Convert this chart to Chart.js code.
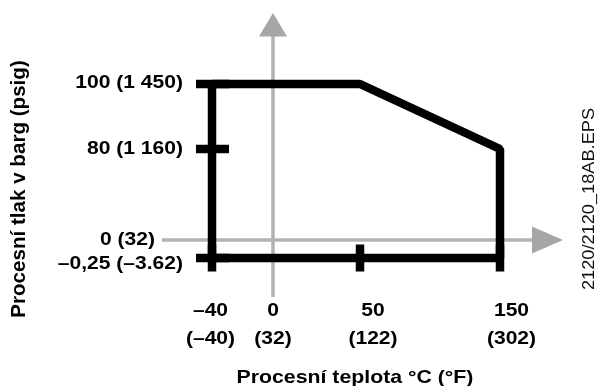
<!DOCTYPE html>
<html>
<head>
<meta charset="utf-8">
<script src="https://cdn.jsdelivr.net/npm/chart.js@4/dist/chart.umd.min.js"></script>
<style>
  html, body { margin: 0; padding: 0; background: #ffffff; }
  #wrap { width: 600px; height: 386px; }
</style>
</head>
<body>
<div id="wrap"><canvas id="c" width="600" height="386"></canvas></div>
<script>
// ---- Data ----
const tempTicks = [-40, 0, 50, 150];                       // °C
const tempLabelsC = ['–40', '0', '50', '150'];
const tempLabelsF = ['(–40)', '(32)', '(122)', '(302)'];
const pressureTicks = [100, 80, 0, -0.25];                 // barg
const pressureLabels = ['100 (1 450)', '80 (1 160)', '0 (32)', '–0,25 (–3.62)'];
const envelopeTemp = [-40, -40, 50, 150, 150, -40];
const envelopePressure = [-0.25, 100, 100, 80, -0.25, -0.25];
const tempTickMarks = [-40, 50, 150];
const pressureTickMarks = [100, 80, -0.25];
const xTitle = 'Procesní teplota °C (°F)';
const yTitle = 'Procesní tlak v barg (psig)';
const sideNote = '2120/2120_18AB.EPS';

// ---- Schematic (piecewise-linear) axis layout, as fractions of the axis length ----
const axisKnots = {
  x: { values: [-40, 0, 50, 150], fractions: [0.1247, 0.2768, 0.4938, 0.8429] },
  y: { values: [-0.25, 0, 80, 100], fractions: [0.1373, 0.2007, 0.5211, 0.75] }
};

class PiecewiseScale extends Chart.LinearScale {
  _toDecimal(v) {
    const k = axisKnots[this.id];
    const vals = k.values, fr = k.fractions;
    let i = 0;
    while (i < vals.length - 2 && v > vals[i + 1]) i++;
    const t = (v - vals[i]) / (vals[i + 1] - vals[i]);
    return fr[i] + t * (fr[i + 1] - fr[i]);
  }
  _fromDecimal(d) {
    const k = axisKnots[this.id];
    const vals = k.values, fr = k.fractions;
    let i = 0;
    while (i < fr.length - 2 && d > fr[i + 1]) i++;
    const t = (d - fr[i]) / (fr[i + 1] - fr[i]);
    return vals[i] + t * (vals[i + 1] - vals[i]);
  }
  getPixelForValue(value) {
    return this.getPixelForDecimal(this._toDecimal(value));
  }
  getValueForPixel(pixel) {
    return this._fromDecimal(this.getDecimalForPixel(pixel));
  }
}
PiecewiseScale.id = 'piecewise';
PiecewiseScale.defaults = {};
Chart.register(PiecewiseScale);

// ---- Styles ----
const BLACK = '#000000';
const LINE_W = 8.5;
const AXIS_GRAY = '#b2b2b2';
const ARROW_GRAY = '#a6a6a6';
const LABEL_FONT = 'bold 18px "Liberation Sans", Arial, sans-serif';
const LABEL_SX = 1.17;
const yLabelDx = [-29, -29, -57, -29];   // relative to frame line
const yLabelDy = [-1, 0, 0, 6];
const xLabelDx = [-1.5, 0, 13, 11.5];

function drawText(ctx, str, x, y, font, align, sx, rot, color) {
  ctx.save();
  ctx.translate(x, y);
  if (rot) ctx.rotate(rot);
  ctx.scale(sx, 1);
  ctx.font = font;
  ctx.fillStyle = color || BLACK;
  ctx.textAlign = align;
  ctx.textBaseline = 'middle';
  ctx.fillText(str, 0, 0);
  ctx.restore();
}

const decorPlugin = {
  id: 'decor',
  beforeDatasetsDraw(chart) {
    const { ctx, chartArea: a, scales: { x, y } } = chart;
    const y0 = y.getPixelForValue(0);
    const x0 = x.getPixelForValue(0);
    ctx.save();
    ctx.strokeStyle = AXIS_GRAY;
    ctx.lineWidth = 3.5;
    ctx.lineCap = 'butt';
    ctx.beginPath();
    ctx.moveTo(a.left, y0); ctx.lineTo(a.right - 20, y0);
    ctx.moveTo(x0, a.bottom); ctx.lineTo(x0, a.top + 16);
    ctx.stroke();
    ctx.fillStyle = ARROW_GRAY;
    ctx.beginPath();
    ctx.moveTo(a.right, y0);
    ctx.lineTo(a.right - 31, y0 - 13.5);
    ctx.lineTo(a.right - 31, y0 + 13.5);
    ctx.closePath();
    ctx.fill();
    ctx.beginPath();
    ctx.moveTo(x0, a.top);
    ctx.lineTo(x0 - 14, a.top + 23.5);
    ctx.lineTo(x0 + 14, a.top + 23.5);
    ctx.closePath();
    ctx.fill();
    ctx.restore();
  },
  afterDatasetsDraw(chart) {
    const { ctx, scales: { x, y } } = chart;
    const frameX = x.getPixelForValue(Math.min(...envelopeTemp));
    const frameY = y.getPixelForValue(Math.min(...envelopePressure));
    ctx.save();
    ctx.strokeStyle = BLACK;
    ctx.lineWidth = LINE_W;
    ctx.lineCap = 'butt';
    ctx.beginPath();
    pressureTickMarks.forEach(v => {
      const py = y.getPixelForValue(v);
      ctx.moveTo(frameX - 16, py); ctx.lineTo(frameX + 17, py);
    });
    tempTickMarks.forEach(v => {
      const px = x.getPixelForValue(v);
      ctx.moveTo(px, frameY - 13.5); ctx.lineTo(px, frameY + 13.5);
    });
    ctx.stroke();
    ctx.restore();
  },
  afterDraw(chart) {
    const { ctx, chartArea: a, scales: { x, y } } = chart;
    const frameX = x.getPixelForValue(Math.min(...envelopeTemp));
    pressureTicks.forEach((v, i) => {
      drawText(ctx, pressureLabels[i], frameX + yLabelDx[i], y.getPixelForValue(v) + yLabelDy[i],
        LABEL_FONT, 'right', LABEL_SX);
    });
    tempTicks.forEach((v, i) => {
      const px = x.getPixelForValue(v) + xLabelDx[i];
      drawText(ctx, tempLabelsC[i], px, a.bottom + 14, LABEL_FONT, 'center', LABEL_SX);
      drawText(ctx, tempLabelsF[i], px, a.bottom + 42.5, LABEL_FONT, 'center', LABEL_SX);
    });
    drawText(ctx, xTitle, 355, 378, 'bold 18.5px "Liberation Sans", Arial, sans-serif', 'center', 1.15);
    drawText(ctx, yTitle, 19, 189, 'bold 20.6px "Liberation Sans", Arial, sans-serif', 'center', 1, -Math.PI / 2);
    drawText(ctx, sideNote, 590, 199, '16px "Liberation Sans", Arial, sans-serif', 'center', 1.137, -Math.PI / 2, '#111111');
  }
};

new Chart(document.getElementById('c'), {
  type: 'line',
  data: {
    datasets: [{
      label: 'Envelope',
      data: envelopeTemp.map((t, i) => ({ x: t, y: envelopePressure[i] })),
      borderColor: BLACK,
      borderWidth: LINE_W,
      borderJoinStyle: 'bevel',
      borderCapStyle: 'butt',
      pointRadius: 0,
      pointHoverRadius: 0,
      fill: false,
      tension: 0
    }]
  },
  options: {
    responsive: false,
    animation: false,
    events: [],
    layout: { padding: { left: 162, right: 37, top: 13, bottom: 89 } },
    plugins: { legend: { display: false }, tooltip: { enabled: false }, title: { display: false } },
    scales: {
      x: { type: 'piecewise', display: false, min: -73, max: 195 },
      y: { type: 'piecewise', display: false, min: -1.5, max: 122 }
    }
  },
  plugins: [decorPlugin]
});
</script>
</body>
</html>
